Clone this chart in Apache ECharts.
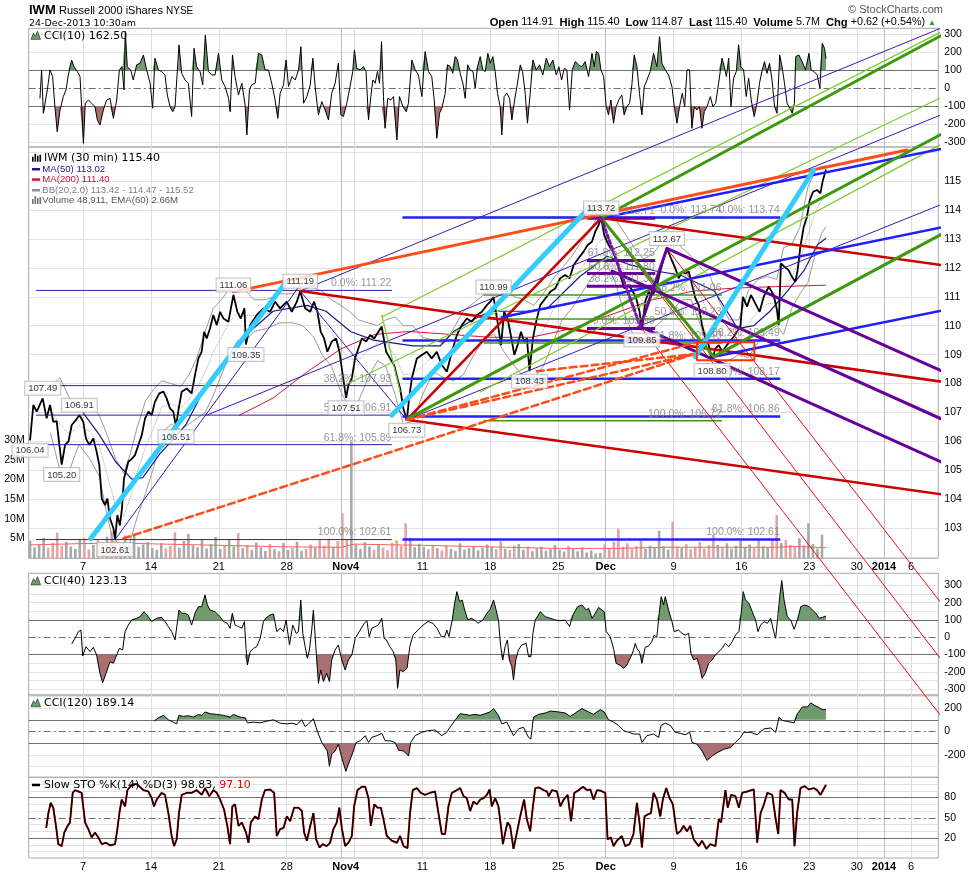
<!DOCTYPE html>
<html>
<head>
<meta charset="utf-8">
<script src="https://cdn.jsdelivr.net/npm/echarts@6/dist/echarts.min.js"></script>
<style>
html,body{margin:0;padding:0;background:#fff}
#chart{width:977px;height:872px}
</style>
</head>
<body>
<div id="chart"></div>
<script>
// x unit = trading day, 0 = Mon 7 Oct 2013 (Thanksgiving week counts 3.5 days)
var xTickDays = [0, 5, 10, 15, 19.35, 25, 30, 35, 38.5, 43.5, 48.5, 53.5, 57, 59, 61];
var xTickLabels = ['7', '14', '21', '28', 'Nov4', '11', '18', '25', 'Dec', '9', '16', '23', '30', '2014', '6'];
var boldLabels = ['Nov4', 'Dec', '2014'];
var weekLines = [0, 5, 10, 15, 20, 25, 30, 35, 43.5, 48.5, 53.5, 57, 61];
var monthLines = [19, 38.5, 59];

var priceTicks = [103, 104, 105, 106, 107, 108, 109, 110, 111, 112, 113, 114, 115];
var volTicks = [5, 10, 15, 20, 25, 30];
var cciTicks = [300, 200, 100, 0, -100, -200, -300];
var cci120Ticks = [200, 0, -200];
var stoTicks = [80, 50, 20];

// IWM 30 min close [day, price]
var price = [[-3.9,106.04],[-3.66,107.26],[-3.41,107.03],[-2.97,107.49],[-2.68,106.8],[-2.43,107.26],[-2.19,106.68],[-1.94,106.7],[-1.74,105.88],[-1.57,105.2],[-1.32,105.88],[-1.07,106.0],[-0.83,106.57],[-0.59,106.7],[-0.27,106.91],[0.02,106.68],[0.22,106.1],[0.46,105.88],[0.76,106.1],[1.0,105.65],[1.2,105.19],[1.38,104.03],[1.62,103.8],[1.79,104.03],[1.99,103.34],[2.24,103.0],[2.36,102.61],[2.53,103.46],[2.72,103.1],[2.87,103.69],[3.02,104.72],[3.34,105.3],[3.59,105.4],[3.83,105.53],[4.08,105.88],[4.33,106.22],[4.57,106.8],[4.82,107.03],[5.06,106.91],[5.3,107.37],[5.62,107.66],[5.92,107.72],[6.16,107.49],[6.41,107.14],[6.65,107.03],[6.85,106.51],[7.05,107.14],[7.27,107.72],[7.64,107.83],[8.0,107.66],[8.25,108.3],[8.5,108.87],[8.74,109.1],[8.92,109.79],[9.11,109.56],[9.36,109.91],[9.6,110.37],[9.85,110.02],[10.1,110.48],[10.34,110.25],[10.71,110.14],[11.08,111.06],[11.37,110.48],[11.62,110.25],[11.89,110.6],[12.0,109.35],[12.31,110.02],[12.8,110.37],[13.29,110.6],[13.78,110.48],[14.15,110.83],[14.52,110.6],[15.01,110.83],[15.38,110.48],[15.75,110.83],[16.0,111.19],[16.36,110.6],[16.73,110.48],[17.02,110.83],[17.27,110.48],[17.51,109.79],[17.76,109.56],[18.0,109.1],[18.32,109.45],[18.64,109.56],[18.89,109.1],[19.13,108.3],[19.38,107.51],[19.55,107.95],[19.8,108.18],[20.04,108.87],[20.29,109.22],[20.54,109.56],[20.86,109.45],[21.15,109.68],[21.45,109.56],[21.76,109.79],[22.0,109.97],[22.33,109.1],[22.62,108.87],[22.92,108.64],[23.16,108.18],[23.36,107.83],[23.6,107.14],[23.85,106.73],[24.02,107.49],[24.22,108.18],[24.59,108.87],[24.96,108.99],[25.32,109.1],[25.69,108.87],[26.06,109.1],[26.43,108.64],[26.8,108.41],[27.17,109.1],[27.54,109.68],[27.91,110.02],[28.27,110.25],[28.64,110.14],[29.01,110.37],[29.38,110.48],[29.75,110.71],[30.0,110.83],[30.24,110.99],[30.53,110.14],[30.79,109.33],[31.02,110.48],[31.27,110.25],[31.51,109.68],[31.77,108.99],[32.01,109.33],[32.26,109.79],[32.5,109.45],[32.7,109.56],[32.89,108.43],[33.14,109.56],[33.38,110.14],[33.68,110.71],[34.05,110.94],[34.42,111.17],[34.79,111.29],[35.15,111.64],[35.52,111.75],[35.84,111.64],[36.14,112.1],[36.5,112.33],[36.87,112.56],[37.17,112.79],[37.49,112.9],[37.73,113.25],[37.98,113.48],[38.17,113.72],[38.39,113.13],[38.71,112.79],[39.03,112.56],[39.33,112.21],[39.57,111.75],[39.87,111.29],[40.19,111.41],[40.51,111.17],[40.75,110.94],[41.0,110.48],[41.17,109.85],[41.41,110.83],[41.66,111.17],[41.98,111.06],[42.28,111.41],[42.52,111.87],[42.77,112.33],[43.01,112.67],[43.31,112.33],[43.63,111.98],[43.88,111.64],[44.12,111.87],[44.37,111.81],[44.62,111.87],[44.86,111.41],[45.11,110.94],[45.35,110.71],[45.6,110.02],[45.85,109.56],[46.09,109.33],[46.34,108.8],[46.59,109.22],[46.83,109.33],[47.08,109.1],[47.43,109.33],[47.93,109.62],[48.42,109.97],[48.61,111.0],[48.91,110.66],[49.2,111.06],[49.52,110.77],[49.84,110.48],[50.14,111.0],[50.51,111.35],[50.87,111.06],[51.12,110.54],[51.24,110.02],[51.41,112.15],[51.66,112.04],[51.97,111.92],[52.22,111.69],[52.47,111.52],[52.64,111.92],[52.84,112.73],[53.09,113.42],[53.33,113.77],[53.53,114.34],[53.78,114.63],[54.07,114.69],[54.31,114.57],[54.5,115.03],[54.73,115.4]];

var ma50 = [[0.0,107.0],[1.25,106.2],[2.4,105.3],[3.6,104.7],[4.4,104.75],[5.7,105.6],[6.7,106.1],[7.6,106.6],[8.6,107.5],[9.8,108.4],[11.1,109.1],[12.3,109.8],[14.0,110.5],[16.5,110.7],[17.9,110.5],[19.7,109.8],[21.4,109.5],[22.9,109.4],[24.3,109.3],[26.3,109.3],[27.3,109.8],[28.7,110.2],[30.0,110.5],[32.7,110.5],[34.2,110.6],[36.6,111.7],[38.6,112.4],[40.3,112.1],[42.1,111.9],[44.0,111.75],[46.5,111.2],[47.7,110.3],[48.2,109.9],[49.4,110.0],[50.6,110.5],[51.9,111.2],[53.1,111.9],[54.1,112.8],[54.73,113.02]];
var ma200 = [[11.5,106.9],[14,107.5],[16.5,108.4],[19,109.2],[21.5,109.7],[24,109.8],[27,109.7],[30,109.6],[33,109.6],[36,109.9],[39,110.4],[42,110.9],[45,111.2],[48,111.3],[51,111.35],[54.73,111.4]];

var bbUpper = [[-2.4,107.9],[-1.7,108.2],[-1.0,107.5],[-0.3,107.2],[0.5,107.3],[1.2,106.9],[1.8,106.2],[2.4,105.4],[3.0,104.9],[3.5,105.6],[4.0,106.5],[4.6,107.4],[5.2,107.8],[5.8,108.1],[6.5,108.0],[7.2,107.9],[7.8,108.3],[8.4,108.9],[9.0,109.8],[9.6,110.6],[10.2,110.9],[10.8,111.3],[11.4,111.4],[12.0,111.2],[12.6,110.9],[13.5,110.9],[14.5,111.1],[15.5,111.1],[16.2,111.5],[17.0,111.3],[17.6,111.2],[18.3,110.9],[19.0,110.7],[19.6,110.5],[20.3,110.2],[21.0,110.1],[21.7,110.0],[22.3,110.2],[23.0,110.3],[23.6,110.0],[24.3,110.0],[25.0,109.6],[25.8,109.5],[26.6,109.4],[27.3,109.9],[28.0,110.5],[28.8,110.8],[29.6,111.1],[30.3,111.4],[31.0,111.2],[31.8,111.0],[32.5,110.9],[33.2,110.7],[33.9,111.1],[34.6,111.6],[35.3,112.0],[36.0,112.4],[36.7,112.9],[37.4,113.3],[38.0,113.9],[38.6,114.0],[39.2,113.7],[39.9,113.2],[40.6,112.7],[41.3,112.3],[42.0,112.5],[42.7,112.9],[43.4,113.0],[44.1,112.7],[44.8,112.4],[45.5,112.0],[46.2,111.7],[46.9,110.8],[47.6,110.2],[48.3,110.2],[49.0,111.2],[49.7,111.6],[50.4,111.7],[51.1,111.6],[51.6,112.7],[52.2,112.8],[52.8,113.4],[53.4,114.8],[54.0,115.4],[54.4,115.5],[54.73,115.52]];
var bbLower = [[-2.4,106.3],[-1.7,105.0],[-1.0,105.0],[-0.3,105.9],[0.5,105.4],[1.2,104.8],[1.8,103.4],[2.4,102.2],[3.0,101.9],[3.5,102.6],[4.0,103.4],[4.6,104.2],[5.2,105.1],[5.8,106.3],[6.5,106.6],[7.2,106.4],[7.8,106.6],[8.4,106.8],[9.0,107.0],[9.6,107.6],[10.2,108.3],[10.8,109.0],[11.4,109.5],[12.0,109.5],[12.6,109.8],[13.5,109.9],[14.5,110.1],[15.5,110.1],[16.2,110.0],[17.0,109.6],[17.6,109.0],[18.3,108.6],[19.0,107.7],[19.6,107.2],[20.3,107.4],[21.0,108.2],[21.7,108.8],[22.3,108.6],[23.0,107.6],[23.6,106.6],[24.3,106.7],[25.0,107.6],[25.8,108.4],[26.6,108.2],[27.3,108.1],[28.0,108.3],[28.8,109.0],[29.6,109.6],[30.3,109.7],[31.0,109.1],[31.8,108.6],[32.5,108.2],[33.2,108.2],[33.9,108.6],[34.6,109.4],[35.3,110.2],[36.0,110.6],[36.7,111.1],[37.4,111.6],[38.0,111.9],[38.6,112.1],[39.2,111.5],[39.9,110.4],[40.6,109.6],[41.3,109.4],[42.0,109.9],[42.7,110.2],[43.4,110.5],[44.1,110.9],[44.8,110.9],[45.5,110.0],[46.2,108.9],[46.9,108.7],[47.6,108.8],[48.3,109.0],[49.0,108.9],[49.7,109.4],[50.4,109.8],[51.1,110.0],[51.6,109.7],[52.2,110.6],[52.8,111.1],[53.4,111.5],[54.0,112.6],[54.4,113.2],[54.73,113.42]];

// volume in millions, one bar every third of a day from day -3.9
var volStart = -3.9;
var volStep = 1 / 3;
var volume = [4.5,2.8,3.6,5.2,2.6,3.9,6.5,3.1,4.2, 3.0,2.4,4.8,5.1,2.2,3.4,4.6,3.8,5.5, 6.8,4.9,3.6,5.8,3.3,6.2,2.9,3.5,4.1, 2.6,2.2,3.8,2.5,3.1,6.6,2.7,4.4,6.2, 3.3,2.8,4.9,2.5,3.6,5.4,2.4,3.2,4.7, 3.0,6.4,2.6,3.4,2.1,4.0,2.8,1.9,3.6, 2.3,1.8,3.9,2.1,2.6,4.2,1.9,2.4,3.5, 2.7,4.6,3.2,5.0,2.9,4.4,11.4,4.8,29.6, 3.5,2.4,4.1,3.0,2.2,3.6,2.7,2.1,3.9, 4.6,3.1,8.9,5.2,2.8,3.7,2.9,2.3,3.4, 2.6,2.0,3.3,2.4,1.9,3.8,2.2,2.6,3.1, 2.0,2.7,3.5,2.9,2.3,4.3,2.4,2.1,3.2, 3.6,2.2,3.0,1.8,2.5,2.9,1.9,2.3,3.4, 2.1,1.7,3.1,2.4,1.8,2.8,1.5,2.0,1.2, 1.4,3.6,2.6,4.2,7.5,2.9,3.8,2.5,3.1, 4.5,2.4,3.2,2.6,7.0,3.1,2.2,9.3,3.0, 2.6,3.6,2.3,2.9,4.1,2.5,3.3,6.0,3.4, 2.7,3.8,2.4,3.2,4.4,2.8,3.5,2.6,4.7, 3.1,2.8,4.9,11.0,3.9,4.6,3.4,2.9,5.1, 3.3,8.9,3.6,2.5,6.0];
var volEma = [[-3.9,3.4],[2,3.9],[6,3.6],[10,3.3],[15,2.9],[19,2.8],[20,3.6],[23,3.4],[25,3.3],[30,2.9],[35,2.5],[39,2.5],[43,2.8],[47,2.8],[51,2.8],[52.5,3.0],[54.73,2.7]];

var cci10 = [[-3.17,-56],[-3.05,102],[-2.92,-139],[-2.8,-148],[-2.63,-9],[-2.43,102],[-2.24,65],[-2.07,-102],[-1.9,-241],[-1.69,-120],[-1.45,-46],[-1.25,-9],[-1.08,74],[-0.84,157],[-0.66,120],[-0.42,93],[-0.22,65],[-0.1,-102],[0.03,-306],[0.17,-83],[0.4,-65],[0.64,-83],[0.88,-102],[1.06,-176],[1.25,-204],[1.5,-120],[1.74,-65],[1.99,-56],[2.24,-167],[2.48,-65],[2.68,102],[2.87,120],[3.02,-9],[3.12,315],[3.26,120],[3.51,102],[3.7,46],[3.95,130],[4.2,139],[4.45,185],[4.69,102],[4.94,28],[5.13,-111],[5.3,167],[5.55,102],[5.79,93],[6.04,74],[6.21,-37],[6.41,-102],[6.61,-130],[6.78,-102],[6.9,-111],[7.07,241],[7.27,83],[7.52,46],[7.76,28],[8.0,-157],[8.18,222],[8.37,120],[8.62,93],[8.82,19],[9.01,296],[9.24,93],[9.48,74],[9.73,74],[9.98,194],[10.22,46],[10.47,9],[10.72,-56],[10.84,-130],[11.01,185],[11.2,65],[11.45,-37],[11.7,28],[11.94,-93],[12.07,-259],[12.26,-9],[12.43,19],[12.68,28],[12.92,194],[13.17,185],[13.41,102],[13.66,102],[13.9,28],[14.15,-65],[14.35,-167],[14.52,-28],[14.77,19],[14.96,157],[15.14,9],[15.39,65],[15.63,46],[15.88,102],[16.05,231],[16.25,-83],[16.49,-46],[16.74,19],[16.93,167],[17.1,9],[17.34,-148],[17.59,-74],[17.83,-120],[18.08,-176],[18.32,-28],[18.57,28],[18.81,139],[18.99,-148],[19.18,-157],[19.43,-83],[19.67,9],[19.87,93],[19.99,213],[20.16,111],[20.41,102],[20.66,120],[20.85,93],[21.03,-176],[21.2,-46],[21.35,46],[21.52,28],[21.69,93],[21.84,28],[21.99,259],[22.13,-46],[22.25,-222],[22.45,-56],[22.67,-65],[22.87,-46],[23.12,-287],[23.31,-46],[23.56,-102],[23.81,-130],[23.97,-83],[24.22,157],[24.47,102],[24.71,74],[24.96,-46],[25.2,204],[25.45,93],[25.69,65],[25.87,-65],[26.06,-278],[26.26,-139],[26.43,-111],[26.68,-28],[26.85,130],[27.05,120],[27.24,83],[27.41,176],[27.59,157],[27.78,83],[27.98,28],[28.15,-56],[28.33,130],[28.52,102],[28.72,93],[28.89,0],[29.06,120],[29.26,176],[29.45,102],[29.63,93],[29.82,194],[30.0,139],[30.19,176],[30.36,93],[30.53,-28],[30.73,-102],[30.85,-259],[31.02,-46],[31.22,-28],[31.42,-56],[31.59,-176],[31.79,-65],[31.96,9],[32.21,130],[32.38,93],[32.57,-28],[32.74,-194],[32.94,-28],[33.14,157],[33.38,102],[33.63,130],[33.87,74],[34.12,167],[34.36,120],[34.61,157],[34.86,74],[35.05,120],[35.25,46],[35.45,111],[35.64,102],[35.84,-120],[36.04,102],[36.26,148],[36.5,130],[36.75,120],[36.99,148],[37.24,65],[37.49,194],[37.66,120],[37.81,204],[37.98,194],[38.15,102],[38.35,65],[38.54,-102],[38.71,-148],[38.88,-65],[39.08,-194],[39.27,-102],[39.47,-65],[39.69,-37],[39.86,-148],[40.06,-102],[40.26,-83],[40.43,19],[40.6,185],[40.8,120],[40.99,-28],[41.17,-148],[41.34,9],[41.54,46],[41.78,93],[42.03,194],[42.27,120],[42.47,287],[42.64,139],[42.89,102],[43.13,74],[43.38,9],[43.57,-111],[43.75,-194],[43.94,-102],[44.14,-28],[44.32,-102],[44.49,102],[44.68,102],[44.85,-222],[45.03,-102],[45.22,-120],[45.41,-102],[45.59,-222],[45.76,-130],[45.96,-102],[46.21,-46],[46.4,-102],[46.6,-83],[46.82,28],[47.07,167],[47.24,120],[47.39,65],[47.56,167],[47.73,-102],[47.92,56],[48.12,93],[48.29,241],[48.46,120],[48.66,102],[48.85,-46],[49.03,56],[49.22,-65],[49.44,-157],[49.64,-83],[49.83,28],[50.03,102],[50.2,148],[50.38,83],[50.57,139],[50.75,46],[50.94,-102],[51.12,-139],[51.32,185],[51.49,120],[51.67,28],[51.86,-83],[52.06,-111],[52.24,-139],[52.4,-83],[52.5,176],[52.73,185],[52.97,148],[53.22,102],[53.47,194],[53.64,102],[53.84,93],[54.08,74],[54.28,0],[54.45,250],[54.62,222],[54.73,162.5]];

var cci40 = [[-0.83,-39],[-0.59,-6],[-0.34,33],[-0.15,42],[-0.02,-108],[0.22,-54],[0.52,-83],[0.76,-58],[1.0,-102],[1.25,-208],[1.45,-262],[1.7,-208],[1.99,-141],[2.24,-150],[2.48,-102],[2.68,-64],[2.92,-73],[3.1,33],[3.34,71],[3.59,100],[3.95,110],[4.2,119],[4.5,148],[4.81,119],[5.06,91],[5.43,110],[5.79,116],[6.04,91],[6.29,62],[6.53,33],[6.78,-15],[6.9,-25],[7.07,158],[7.27,139],[7.52,139],[7.76,129],[8.0,71],[8.25,139],[8.5,177],[8.74,177],[8.99,245],[9.16,187],[9.36,158],[9.73,148],[10.1,119],[10.34,91],[10.63,81],[10.83,52],[11.0,139],[11.2,71],[11.45,62],[11.7,52],[11.89,91],[12.01,-64],[12.11,-160],[12.31,-83],[12.56,-64],[12.8,-54],[13.05,-6],[13.29,91],[13.54,116],[13.78,129],[14.03,135],[14.27,33],[14.52,52],[14.77,33],[14.96,100],[15.21,-44],[15.45,71],[15.7,23],[15.87,33],[16.04,216],[16.19,23],[16.36,-54],[16.53,-121],[16.68,-73],[16.85,42],[16.97,158],[17.15,-54],[17.34,-266],[17.51,-189],[17.71,-256],[17.95,-208],[18.15,-256],[18.32,-131],[18.57,-73],[18.81,-44],[19.06,-131],[19.31,-189],[19.55,-131],[19.8,-102],[20.05,-6],[20.42,42],[20.71,81],[20.91,96],[21.08,4],[21.27,52],[21.52,62],[21.76,71],[22.01,110],[22.18,-6],[22.35,-15],[22.6,-54],[22.85,-83],[23.04,-131],[23.17,-295],[23.34,-189],[23.58,-198],[23.87,-179],[24.07,-54],[24.31,13],[24.68,42],[25.05,71],[25.41,91],[25.78,81],[26.07,52],[26.39,4],[26.64,4],[26.8,42],[26.95,4],[27.2,100],[27.37,197],[27.54,264],[27.74,206],[27.93,216],[28.11,158],[28.35,100],[28.6,110],[28.85,100],[29.09,81],[29.46,100],[29.75,139],[29.99,162],[30.24,216],[30.43,158],[30.6,100],[30.77,-54],[30.92,-131],[31.09,-54],[31.26,-15],[31.41,-131],[31.59,-170],[31.71,-247],[31.88,-131],[32.08,-73],[32.32,-44],[32.64,-35],[32.82,-112],[32.99,-112],[33.14,23],[33.31,100],[33.68,148],[34.05,119],[34.42,110],[34.79,100],[35.15,96],[35.52,100],[35.84,62],[36.08,129],[36.43,177],[36.75,187],[37.07,158],[37.24,168],[37.49,110],[37.73,139],[37.98,173],[38.22,158],[38.39,148],[38.54,33],[38.83,4],[39.08,-64],[39.27,-150],[39.52,-160],[39.82,-179],[40.06,-160],[40.36,-112],[40.55,-73],[40.68,-35],[40.8,-64],[40.99,-83],[41.17,-150],[41.41,-58],[41.66,-50],[41.9,-25],[42.07,13],[42.27,0],[42.44,139],[42.59,235],[42.76,187],[42.89,235],[43.13,158],[43.38,91],[43.55,33],[43.87,42],[44.12,23],[44.36,13],[44.61,23],[44.78,-92],[44.98,-131],[45.23,-121],[45.42,-170],[45.6,-237],[45.84,-208],[46.09,-150],[46.34,-131],[46.58,-102],[46.83,-83],[47.08,-64],[47.32,-35],[47.57,-54],[47.82,-25],[48.06,13],[48.31,33],[48.48,139],[48.63,264],[48.8,216],[49.05,197],[49.3,148],[49.54,100],[49.72,33],[49.91,71],[50.16,91],[50.41,81],[50.65,110],[50.85,42],[51.02,-6],[51.14,0],[51.32,235],[51.47,328],[51.64,216],[51.88,119],[52.13,100],[52.38,46],[52.62,100],[52.87,177],[53.17,187],[53.49,177],[53.73,158],[53.98,139],[54.23,110],[54.48,116],[54.73,123]];

var cci120 = [[5.26,88],[5.55,117],[5.92,138],[6.29,100],[6.65,80],[6.9,65],[7.07,138],[7.4,129],[7.76,135],[8.13,123],[8.5,144],[8.74,138],[8.99,167],[9.36,152],[9.85,146],[10.34,138],[10.83,123],[11.08,146],[11.57,123],[11.94,117],[12.11,74],[12.56,80],[13.05,74],[13.54,88],[14.03,100],[14.52,71],[15.01,65],[15.39,71],[15.75,59],[16.12,100],[16.36,42],[16.61,65],[16.97,109],[17.17,36],[17.34,-22],[17.59,-94],[17.83,-138],[18.0,-167],[18.15,-297],[18.32,-196],[18.57,-167],[18.81,-109],[19.06,-225],[19.36,-341],[19.63,-254],[19.87,-181],[20.12,-94],[20.42,-80],[20.79,-36],[21.03,-94],[21.27,-51],[21.64,-36],[22.01,-16],[22.26,-80],[22.62,-80],[22.99,-94],[23.24,-160],[23.61,-167],[23.98,-210],[24.14,-94],[24.46,-36],[24.95,-7],[25.44,7],[25.93,13],[26.42,-36],[26.79,-7],[27.03,36],[27.4,94],[27.77,152],[28.13,146],[28.5,138],[28.87,146],[29.24,138],[29.61,152],[29.98,167],[30.24,196],[30.6,138],[30.85,65],[31.22,80],[31.71,-36],[32.08,22],[32.45,36],[32.82,-51],[32.99,-65],[33.18,123],[33.55,146],[34.05,158],[34.42,175],[35.03,167],[35.52,158],[35.89,129],[36.38,167],[36.75,196],[37.24,167],[37.6,146],[38.1,187],[38.39,167],[38.71,100],[39.08,80],[39.45,51],[39.82,7],[40.19,-7],[40.55,-22],[41.0,-22],[41.17,-94],[41.54,-36],[42.03,-22],[42.4,-51],[42.57,51],[42.89,71],[43.26,51],[43.63,-7],[44.0,-16],[44.36,-28],[44.69,-7],[44.86,-94],[45.23,-109],[45.6,-167],[45.96,-248],[46.34,-210],[46.71,-181],[47.2,-152],[47.69,-138],[48.06,-94],[48.43,-51],[48.68,-7],[49.17,-7],[49.66,-28],[50.16,22],[50.65,30],[51.02,-7],[51.27,123],[51.52,94],[51.88,86],[52.38,74],[52.62,152],[52.99,210],[53.36,210],[53.61,245],[53.85,225],[54.22,204],[54.48,187],[54.73,189]];

var sto = [[-2.71,35],[-2.55,57],[-2.38,72],[-2.19,65],[-1.99,38],[-1.82,11],[-1.57,8],[-1.38,28],[-1.13,38],[-0.96,43],[-0.76,87],[-0.59,91],[-0.34,89],[-0.1,87],[0.15,43],[0.4,33],[0.64,21],[0.88,28],[1.13,21],[1.38,11],[1.7,13],[1.99,9],[2.36,11],[2.53,33],[2.68,57],[2.85,77],[3.1,67],[3.27,91],[3.59,99],[3.95,100],[4.45,91],[4.81,89],[5.06,79],[5.23,67],[5.43,77],[5.79,87],[6.04,84],[6.29,57],[6.53,23],[6.71,8],[6.9,18],[7.07,57],[7.27,84],[7.64,87],[8.0,87],[8.37,91],[8.74,84],[8.99,94],[9.31,82],[9.6,91],[9.85,87],[10.1,77],[10.39,62],[10.63,38],[10.83,11],[11.0,67],[11.2,70],[11.45,38],[11.7,43],[12.01,28],[12.19,13],[12.36,43],[12.68,52],[12.92,48],[13.17,77],[13.41,91],[13.78,92],[14.08,87],[14.27,23],[14.52,33],[14.77,35],[15.01,52],[15.26,45],[15.55,65],[15.87,65],[16.12,60],[16.29,28],[16.49,16],[16.74,38],[16.97,57],[17.17,18],[17.42,6],[17.66,11],[17.95,8],[18.2,13],[18.44,33],[18.69,43],[18.88,65],[19.06,35],[19.31,8],[19.55,13],[19.8,23],[19.97,67],[20.22,91],[20.54,96],[20.79,96],[21.03,79],[21.2,38],[21.45,70],[21.69,65],[21.94,65],[22.13,48],[22.38,23],[22.75,16],[23.12,13],[23.36,23],[23.61,8],[23.9,5],[24.09,57],[24.29,91],[24.59,94],[24.88,87],[25.2,84],[25.56,87],[25.93,89],[26.18,57],[26.43,26],[26.67,26],[26.92,67],[27.17,87],[27.54,91],[27.78,94],[28.03,82],[28.27,79],[28.52,60],[28.76,74],[29.01,70],[29.26,77],[29.5,79],[29.75,84],[29.95,92],[30.11,67],[30.36,79],[30.6,67],[30.78,38],[30.93,11],[31.1,28],[31.27,43],[31.46,38],[31.71,4],[31.96,28],[32.2,52],[32.49,77],[32.69,48],[32.94,30],[33.14,67],[33.31,94],[33.56,95],[33.93,91],[34.17,89],[34.3,82],[34.54,91],[34.91,89],[35.16,67],[35.41,77],[35.7,84],[35.95,45],[36.19,87],[36.51,91],[36.83,96],[37.12,91],[37.37,92],[37.61,77],[37.86,91],[38.15,90],[38.47,87],[38.64,18],[38.88,21],[39.08,8],[39.32,16],[39.69,23],[39.94,8],[40.26,11],[40.55,26],[40.8,72],[40.99,43],[41.17,6],[41.36,52],[41.61,55],[41.83,57],[42.03,87],[42.27,77],[42.52,52],[42.71,77],[42.96,94],[43.21,79],[43.45,70],[43.75,26],[44.0,30],[44.24,38],[44.49,30],[44.73,38],[44.98,18],[45.35,8],[45.6,16],[45.92,4],[46.21,11],[46.58,8],[46.83,48],[47.0,43],[47.32,91],[47.49,65],[47.74,84],[48.06,82],[48.31,65],[48.55,87],[48.92,89],[49.41,92],[49.66,13],[49.91,57],[50.16,70],[50.41,87],[50.77,84],[51.01,50],[51.21,26],[51.38,91],[51.67,87],[51.99,77],[52.24,77],[52.41,8],[52.6,57],[52.85,94],[53.14,97],[53.46,92],[53.83,94],[54.07,91],[54.32,84],[54.73,98.8]];

// annotations: [day1, price1, day2, price2]
var lightBlueLines = [[0.57,102.65,14.89,111.47],[22.75,106.91,37.24,114.06],[45.1,108.93,53.82,115.38]];
var orangeLines = [[11.08,111.17,60.7,116.07]];
var orangeDashLines = [[2.97,102.65,45.03,109.02],[23.85,106.75,45.03,109.02],[33.43,108.43,45.03,109.02],[23.85,106.75,45.03,109.4]];
var darkRedLines = [[16.0,111.2,65.88,107.89],[38.17,113.72,65.88,111.92],[23.85,106.75,65.88,104.0],[23.85,106.75,38.17,113.72]];
var thinRedLines = [[41.05,109.97,65.88,94.88],[38.17,113.72,65.88,96.84],[43.01,112.67,65.88,98.79]];
var blueLines = [[38.17,113.72,65.88,116.36],[30.85,110.29,65.88,113.65],[46.45,108.93,65.88,110.77]];
var greenLines = [[38.17,113.72,65.88,120.7],[23.97,106.8,65.88,117.28],[46.45,108.93,65.88,113.83],[38.17,113.72,46.45,108.93]];
var limeLines = [[22.01,110.3,65.88,120.79],[19.31,107.95,65.88,118.49],[29.26,107.71,65.88,116.94],[22.01,110.37,23.36,107.71]];
var navyLines = [[2.36,102.61,15.99,111.4],[16.0,111.2,65.88,120.8],[9.12,106.91,65.88,117.8],[23.85,106.75,65.88,114.69],[16.0,111.2,23.85,106.75]];
var purpleLines = [[43.01,112.67,65.88,107.89],[38.98,111.89,65.88,106.22],[41.05,109.97,65.88,104.73],[41.05,109.97,43.01,112.67]];
var purpleDotLines = [[38.17,113.72,41.05,109.97]];
var boxCorners = [45.22, 109.43, 49.45, 108.81];

var fibALevels = [111.22, 107.93, 106.91, 105.89, 102.61];
var fibAPcts = ['0.0%', '38.2%', '50.0%', '61.8%', '100.0%'];
var fibASpan = [-3.46, 22.75];
var fibBLevels = [113.74, 109.49, 108.17, 106.86, 102.61];
var fibBPcts = ['0.0%', '38.2%', '50.0%', '61.8%', '100.0%'];
var fibBSpan = [23.53, 51.36];
var fibCLevels = [113.71, 112.25, 111.80, 111.36, 109.90];
var fibCPcts = ['100.0%', '61.8%', '50.0%', '38.2%', '0.0%'];
var fibCSpan = [37.12, 42.15];
var fibDLevels = [113.74, 111.06, 110.23, 109.40, 106.72];
var fibDPcts = ['0.0%', '38.2%', '50.0%', '61.8%', '100.0%'];
var fibDSpan = [29.5, 47.07];

// price callouts [day, price, text, side]
var pivotLabels = [[-2.97,107.49,'107.49','top'],[-3.9,106.04,'106.04','bottom'],[-0.27,106.91,'106.91','top'],[-1.57,105.2,'105.20','bottom'],[2.36,102.61,'102.61','bottom'],[6.85,106.51,'106.51','bottom'],[11.08,111.06,'111.06','top'],[12.0,109.35,'109.35','bottom'],[16.0,111.19,'111.19','top'],[19.38,107.51,'107.51','bottom'],[23.85,106.73,'106.73','bottom'],[30.24,110.99,'110.99','top'],[32.89,108.43,'108.43','bottom'],[38.17,113.72,'113.72','top'],[43.01,112.67,'112.67','top'],[41.17,109.85,'109.85','bottom'],[46.34,108.8,'108.80','bottom']];

var fontA = "'Liberation Sans', Arial, sans-serif";
var fontV = "'DejaVu Sans', Verdana, sans-serif";
var greenFill = '#6f9b6f';
var redFill = '#a87070';
var darkGrid = '#6e6e6e';
var lightGrid = '#e2e2e2';
var dashDot = [7, 3, 2, 3];

var chart = echarts.init(document.getElementById('chart'));

function fmtX(v) {
  for (var i = 0; i < xTickDays.length; i++) {
    if (Math.abs(xTickDays[i] - v) < 1e-6) {
      var t = xTickLabels[i];
      return boldLabels.indexOf(t) >= 0 ? '{b|' + t + '}' : t;
    }
  }
  return '';
}

function makeX(g, showLabels) {
  return {
    type: 'value', gridIndex: g, min: -4, max: 63,
    axisLine: {show: false}, axisTick: {show: false}, splitLine: {show: false},
    axisLabel: showLabels ? {
      customValues: xTickDays, formatter: fmtX, margin: 3, fontSize: 11, fontFamily: fontA, color: '#000',
      rich: {b: {fontWeight: 'bold', fontSize: 11, fontFamily: fontA, color: '#000'}}
    } : {show: false}
  };
}

function makeY(g, min, max, ticks, pos, fmt) {
  return {
    type: 'value', gridIndex: g, min: min, max: max, position: pos || 'right',
    axisLine: {show: false}, axisTick: {show: false}, splitLine: {show: false},
    axisLabel: {
      customValues: ticks, margin: pos === 'left' ? 4 : 6, fontSize: 10.5, fontFamily: fontA, color: '#000',
      formatter: fmt || function (v) { return String(v); }
    }
  };
}

// grid lines drawn as mark lines on an empty helper series, kept underneath everything
function gridSeries(xi, yi, hDark, hDash, hLight, withVertical) {
  var items = [];
  hLight.forEach(function (v) { items.push({yAxis: v, lineStyle: {color: lightGrid, width: 1, type: 'solid'}}); });
  if (withVertical) {
    weekLines.forEach(function (v) { items.push({xAxis: v, lineStyle: {color: '#dcdcdc', width: 1, type: 'solid'}}); });
    monthLines.forEach(function (v) { items.push({xAxis: v, lineStyle: {color: '#bdbdbd', width: 1, type: 'solid'}}); });
  }
  hDark.forEach(function (v) { items.push({yAxis: v, lineStyle: {color: darkGrid, width: 1, type: 'solid'}}); });
  hDash.forEach(function (v) { items.push({yAxis: v, lineStyle: {color: darkGrid, width: 1, type: dashDot}}); });
  return {
    type: 'line', xAxisIndex: xi, yAxisIndex: yi, data: [], z: 0, silent: true,
    markLine: {silent: true, z: 0, zlevel: 0, symbol: ['none', 'none'], label: {show: false}, animation: false, data: items}
  };
}

function buildFill(pairs, level, above) {
  var out = [];
  for (var i = 0; i < pairs.length; i++) {
    var p = pairs[i];
    if (i > 0) {
      var q = pairs[i - 1];
      if ((q[1] - level) * (p[1] - level) < 0) {
        var t = (level - q[1]) / (p[1] - q[1]);
        out.push([q[0] + t * (p[0] - q[0]), level]);
      }
    }
    out.push([p[0], above ? Math.max(p[1], level) : Math.min(p[1], level)]);
  }
  return out;
}

function fillSeries(xi, yi, pairs, level, above, color) {
  return {
    type: 'line', xAxisIndex: xi, yAxisIndex: yi, data: buildFill(pairs, level, above),
    showSymbol: false, symbol: 'none', silent: true, z: 2,
    lineStyle: {width: 0, opacity: 0},
    areaStyle: {origin: level, color: color, opacity: 1}
  };
}

function plainLine(xi, yi, data, color, width, z, type) {
  return {
    type: 'line', xAxisIndex: xi, yAxisIndex: yi, data: data,
    showSymbol: false, symbol: 'none', silent: true, z: z || 3,
    lineStyle: {color: color, width: width, type: type || 'solid'}
  };
}

function segSeries(list, color, width, type, z) {
  return list.map(function (s) {
    return {
      type: 'line', xAxisIndex: 1, yAxisIndex: 1, data: [[s[0], s[1]], [s[2], s[3]]],
      showSymbol: false, symbol: 'none', silent: true, clip: false, z: z || 6,
      lineStyle: {color: color, width: width, type: type || 'solid', cap: 'round'}
    };
  });
}

function fibSeries(levels, pcts, span, color, width) {
  var out = levels.map(function (lv) {
    return {
      type: 'line', xAxisIndex: 1, yAxisIndex: 1, data: [[span[0], lv], [span[1], lv]],
      showSymbol: false, symbol: 'none', silent: true, clip: false, z: 5,
      lineStyle: {color: color, width: width}
    };
  });
  out.push({
    type: 'scatter', xAxisIndex: 1, yAxisIndex: 1, silent: true, z: 9, symbolSize: 1,
    itemStyle: {color: 'rgba(0,0,0,0)'},
    data: levels.map(function (lv, i) { return {value: [span[1], lv], name: pcts[i] + ': ' + lv.toFixed(2)}; }),
    label: {
      show: true, formatter: '{b}', position: [0, 0], align: 'right', verticalAlign: 'bottom',
      color: '#7d7d7d', fontSize: 10.5, fontFamily: fontA, padding: [0, 0, 1, 0]
    }
  });
  return out;
}

function priceAt(d) {
  if (d <= price[0][0]) return price[0][1];
  for (var i = 1; i < price.length; i++) {
    if (d <= price[i][0]) {
      var a = price[i - 1], b = price[i];
      return a[1] + (b[1] - a[1]) * (d - a[0]) / (b[0] - a[0]);
    }
  }
  return price[price.length - 1][1];
}

var volData = volume.map(function (v, i) {
  var d = volStart + i * volStep;
  var up = priceAt(d) >= priceAt(d - volStep);
  return {value: [d, v], itemStyle: {color: up ? '#a9a9a9' : '#e3a3a3'}};
});

var bbMid = bbUpper.map(function (p, i) { return [p[0], (p[1] + bbLower[i][1]) / 2]; });

var series = [];
// grid lines
series.push(gridSeries(0, 0, [100, -100], [0], [200, -200, 300, -300], true));
series.push(gridSeries(1, 1, [], [], [102, 103, 104, 105, 106, 107, 108, 109, 110, 111, 112, 113, 114, 115, 116], true));
series.push(gridSeries(2, 3, [100, -100], [0], [150, 200, 250, 300, -150, -200, -250, -300], true));
series.push(gridSeries(3, 4, [100, -100], [0], [200, 300, -200, -300], true));
series.push(gridSeries(4, 5, [80, 20], [50], [0, 10, 30, 40, 60, 70, 90, 100], true));

// CCI(10)
series.push(fillSeries(0, 0, cci10, 100, true, greenFill));
series.push(fillSeries(0, 0, cci10, -100, false, redFill));
series.push(plainLine(0, 0, cci10, '#000', 1, 3));

// volume
series.push({
  type: 'bar', xAxisIndex: 1, yAxisIndex: 2, data: volData, barWidth: 2.6, silent: true, z: 1
});
series.push(plainLine(1, 2, volEma, '#ff6060', 1, 2));

// price panel overlays
series.push(plainLine(1, 1, bbUpper, '#9a9a9a', 1, 2));
series.push(plainLine(1, 1, bbLower, '#9a9a9a', 1, 2));
series.push(plainLine(1, 1, bbMid, '#a8a8a8', 1, 2, 'dotted'));
series.push(plainLine(1, 1, ma200, '#e0103c', 1, 2));
series.push(plainLine(1, 1, ma50, '#1a1a90', 1.2, 2));
series.push(plainLine(1, 1, price, '#000', 1.8, 3));

// fibonacci sets
series = series.concat(fibSeries(fibALevels, fibAPcts, fibASpan, '#3a1aa0', 1));
series = series.concat(fibSeries(fibDLevels, fibDPcts, fibDSpan, '#3a9a10', 1.5));
series = series.concat(fibSeries(fibBLevels, fibBPcts, fibBSpan, '#2222ff', 2.5));
series = series.concat(fibSeries(fibCLevels, fibCPcts, fibCSpan, '#660099', 3));

// trend lines
series = series.concat(segSeries(navyLines, '#3b18b8', 1));
series = series.concat(segSeries(limeLines, '#79cc2a', 1.2));
series = series.concat(segSeries(thinRedLines, '#ee1111', 1));
series = series.concat(segSeries(darkRedLines, '#cc0000', 2.5));
series = series.concat(segSeries(blueLines, '#1e1eff', 2.5));
series = series.concat(segSeries(greenLines, '#3a9a0a', 3));
series = series.concat(segSeries(purpleLines, '#660099', 3));
series = series.concat(segSeries(purpleDotLines, '#7a10b0', 3, 'dotted'));
series = series.concat(segSeries(orangeLines, '#ff4d1a', 3));
series = series.concat(segSeries(orangeDashLines, '#ff4d1a', 2.5, [7, 4]));
series = series.concat(segSeries(lightBlueLines, '#33ccff', 5, 'solid', 7));
series.push({
  type: 'line', xAxisIndex: 1, yAxisIndex: 1, silent: true, clip: false, z: 7, showSymbol: false, symbol: 'none',
  data: [[boxCorners[0], boxCorners[1]], [boxCorners[2], boxCorners[1]], [boxCorners[2], boxCorners[3]], [boxCorners[0], boxCorners[3]], [boxCorners[0], boxCorners[1]]],
  lineStyle: {color: '#ff3300', width: 2}
});

// price callouts
series.push({
  type: 'scatter', xAxisIndex: 1, yAxisIndex: 1, silent: true, z: 10, symbolSize: 1,
  itemStyle: {color: 'rgba(0,0,0,0)'},
  data: pivotLabels.map(function (p) { return {value: [p[0], p[1]], name: p[2], label: {position: p[3]}}; }),
  label: {
    show: true, formatter: '{b}', distance: 3, color: '#000', fontSize: 9.5, fontFamily: fontA,
    backgroundColor: '#fff', borderColor: '#b4b4b4', borderWidth: 1, padding: [2, 3, 1, 3]
  }
});

// CCI(40)
series.push(fillSeries(2, 3, cci40, 100, true, greenFill));
series.push(fillSeries(2, 3, cci40, -100, false, redFill));
series.push(plainLine(2, 3, cci40, '#000', 1, 3));
// CCI(120)
series.push(fillSeries(3, 4, cci120, 100, true, greenFill));
series.push(fillSeries(3, 4, cci120, -100, false, redFill));
series.push(plainLine(3, 4, cci120, '#000', 1, 3));
// Slow STO
series.push(plainLine(4, 5, sto, '#ee1111', 2.0, 2));
series.push(plainLine(4, 5, sto, '#000', 1.4, 3));

var gridBase = {left: 28.7, width: 909.6, show: true, borderColor: '#a9a9a9', borderWidth: 1, backgroundColor: 'rgba(0,0,0,0)'};
function g(top, height) { return Object.assign({}, gridBase, {top: top, height: height}); }

function legendText(x, y, text, font, color) {
  return {type: 'text', x: x, y: y, z: 100, style: {text: text, font: font, fill: color || '#000', verticalAlign: 'middle'}};
}
function mountain(y) {
  return {type: 'polygon', z: 100, shape: {points: [[31, y + 4], [33.5, y - 2], [35.5, y + 1], [37.5, y - 4], [40.5, y + 4]]}, style: {fill: greenFill, stroke: '#2e4a2e', lineWidth: 0.8}};
}
function dash(y, color) {
  return {type: 'rect', z: 100, shape: {x: 32, y: y - 1, width: 8, height: 2.5}, style: {fill: color}};
}
function barsIcon(y, color) {
  return {type: 'group', z: 100, children: [
    {type: 'rect', shape: {x: 32, y: y - 1, width: 1.6, height: 5}, style: {fill: color}},
    {type: 'rect', shape: {x: 34.5, y: y - 4, width: 1.6, height: 8}, style: {fill: color}},
    {type: 'rect', shape: {x: 37, y: y - 2, width: 1.6, height: 6}, style: {fill: color}},
    {type: 'rect', shape: {x: 39.5, y: y - 3, width: 1.6, height: 7}, style: {fill: color}}
  ]};
}

var graphic = [
  legendText(29, 10.5, 'IWM', 'bold 13px ' + fontA),
  legendText(59, 11, 'Russell 2000 iShares', '11px ' + fontA),
  legendText(166, 11.5, 'NYSE', '10px ' + fontA),
  legendText(29, 23.5, '24-Dec-2013 10:30am', '9.5px ' + fontV),
  {type: 'text', x: 848, y: 9.5, z: 100, style: {text: '\u00a9 StockCharts.com', font: '11px ' + fontA, fill: '#555', verticalAlign: 'middle'}},
  {type: 'text', x: 936, y: 22.5, z: 100, style: {
    text: '{b|Open} 114.91  {b|High} 115.40  {b|Low} 114.87  {b|Last} 115.40  {b|Volume} 5.7M  {b|Chg} +0.62 (+0.54%) {g|\u25b2}',
    font: '10.8px ' + fontA, fill: '#000', verticalAlign: 'middle', align: 'right',
    rich: {b: {font: 'bold 11.2px ' + fontA, fill: '#000'}, g: {font: '8px ' + fontA, fill: '#2f9a2f'}}
  }},
  mountain(35.3),
  legendText(44, 35.8, 'CCI(10) 162.50', '11px ' + fontV),
  barsIcon(157.7, '#000'),
  legendText(44, 158, 'IWM (30 min) 115.40', '11px ' + fontV),
  dash(169, '#1a1a90'),
  legendText(42.3, 169.2, 'MA(50) 113.02', '9.6px ' + fontA, '#1a1a90'),
  dash(179.3, '#e0103c'),
  legendText(42.3, 179.6, 'MA(200) 111.40', '9.6px ' + fontA, '#d0103c'),
  dash(190, '#8a9099'),
  legendText(42.3, 190.2, 'BB(20,2.0) 113.42 - 114.47 - 115.52', '9.6px ' + fontA, '#7a8088'),
  barsIcon(200, '#707070'),
  legendText(42.3, 200.5, 'Volume 48,911, EMA(60) 2.66M', '9.6px ' + fontA, '#555'),
  mountain(580.7),
  legendText(44, 581.2, 'CCI(40) 123.13', '11px ' + fontV),
  mountain(702.7),
  legendText(44, 703.2, 'CCI(120) 189.14', '11px ' + fontV),
  dash(784.7, '#000'),
  {type: 'text', x: 44, y: 785.2, z: 100, style: {
    text: 'Slow STO %K(14) %D(3) 98.83, {r|97.10}', font: '11px ' + fontV, fill: '#000', verticalAlign: 'middle',
    rich: {r: {font: '11px ' + fontV, fill: '#ee0000'}}
  }}
];

var option = {
  animation: false,
  backgroundColor: '#fff',
  textStyle: {fontFamily: fontA},
  grid: [g(28.3, 118.7), g(147, 411.3), g(573.3, 121.7), g(695, 82.3), g(777.3, 81.7)],
  xAxis: [makeX(0, false), makeX(1, true), makeX(2, false), makeX(3, false), makeX(4, true)],
  yAxis: [
    makeY(0, -326, 333, cciTicks),
    makeY(1, 101.963, 116.175, priceTicks),
    makeY(1, 0, 104.4, volTicks, 'left', function (v) { return v + 'M'; }),
    makeY(2, -333.5, 370, cciTicks),
    makeY(3, -392, 312, cci120Ticks),
    makeY(4, -9.6, 110, stoTicks)
  ],
  series: series,
  graphic: graphic
};

chart.setOption(option);
</script>
</body>
</html>
